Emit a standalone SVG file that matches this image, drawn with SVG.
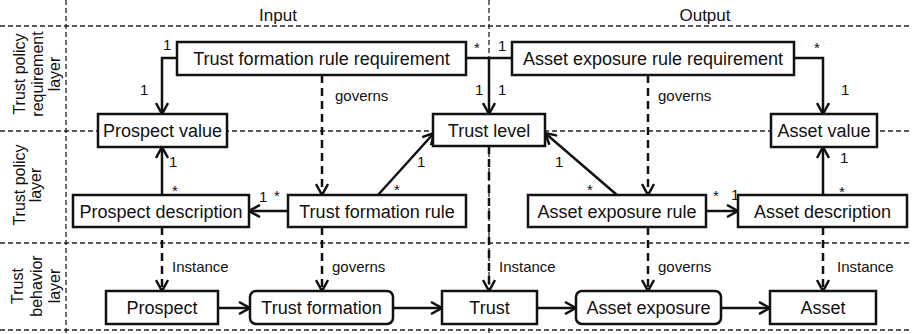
<svg xmlns="http://www.w3.org/2000/svg" width="912" height="334" viewBox="0 0 912 334">
<style>
.grid{stroke:#222;stroke-width:1.3;stroke-dasharray:5 3;fill:none}
.box{fill:#fff;stroke:#111;stroke-width:2.5}
.bt{font-family:"Liberation Sans",Arial,sans-serif;font-size:18px;fill:#111;text-anchor:middle}
.lbl{font-family:"Liberation Sans",Arial,sans-serif;font-size:15px;fill:#111}
.hdr{font-family:"Liberation Sans",Arial,sans-serif;font-size:17px;fill:#111;text-anchor:middle}
.lay{font-family:"Liberation Sans",Arial,sans-serif;font-size:16px;fill:#111;text-anchor:middle}
.sol{stroke:#111;stroke-width:2.5;fill:none;marker-end:url(#arr)}
.line{stroke:#111;stroke-width:2.5;fill:none}
.dsh{stroke:#111;stroke-width:2.5;fill:none;stroke-dasharray:8 5;marker-end:url(#arr)}
</style>
<defs>
<marker id="arr" viewBox="0 0 14 14" refX="12.5" refY="7" markerWidth="14" markerHeight="14" markerUnits="userSpaceOnUse" orient="auto">
<path d="M1.5,1 L12.5,7 L1.5,13" fill="none" stroke="#111" stroke-width="2.5"/>
</marker>
</defs>
<rect width="912" height="334" fill="#fff"/>
<g id="grid">
<line class="grid" x1="0" y1="26" x2="912" y2="26"/>
<line class="grid" x1="0" y1="131" x2="912" y2="131"/>
<line class="grid" x1="0" y1="243" x2="912" y2="243"/>
<line class="grid" x1="0" y1="330" x2="912" y2="330"/>
<line class="grid" x1="66" y1="0" x2="66" y2="334"/>
<line class="grid" x1="489" y1="0" x2="489" y2="334"/>
</g>
<g id="headers">
<text class="hdr" x="278" y="21">Input</text>
<text class="hdr" x="705" y="21">Output</text>
<text class="lay" transform="translate(25,74) rotate(-90)">Trust policy</text>
<text class="lay" transform="translate(43,74) rotate(-90)">requirement</text>
<text class="lay" transform="translate(60,74) rotate(-90)">layer</text>
<text class="lay" transform="translate(25,185) rotate(-90)">Trust policy</text>
<text class="lay" transform="translate(41,185) rotate(-90)">layer</text>
<text class="lay" transform="translate(23,286) rotate(-90)">Trust</text>
<text class="lay" transform="translate(42,286) rotate(-90)">behavior</text>
<text class="lay" transform="translate(60,286) rotate(-90)">layer</text>
</g>
<g id="connectors">
<path class="sol" d="M177,58 H162 V114"/>
<path class="line" d="M466,58 H512"/>
<path class="sol" d="M489,58 V114"/>
<path class="sol" d="M794,58 H823 V114"/>
<path class="sol" d="M162,195 V147"/>
<path class="sol" d="M288,211 H249"/>
<path class="sol" d="M378,195 L434,133"/>
<path class="sol" d="M617,195 L545,133"/>
<path class="sol" d="M706,211 H738"/>
<path class="sol" d="M823,195 V147"/>
<path class="dsh" d="M162,227 V291"/>
<path class="dsh" d="M322,75 V195"/>
<path class="dsh" d="M322,227 V291"/>
<path class="dsh" d="M489,146 V291"/>
<path class="dsh" d="M648,75 V195"/>
<path class="dsh" d="M648,227 V291"/>
<path class="dsh" d="M823,227 V291"/>
<path class="sol" d="M218,308 H250"/>
<path class="sol" d="M393,308 H442"/>
<path class="sol" d="M537,308 H576"/>
<path class="sol" d="M721,308 H770"/>
<text class="lbl" x="163" y="50">1</text>
<text class="lbl" x="140" y="95">1</text>
<text class="lbl" x="474" y="53">*</text>
<text class="lbl" x="498" y="51">1</text>
<text class="lbl" x="475" y="95">1</text>
<text class="lbl" x="498" y="95">1</text>
<text class="lbl" x="814" y="53">*</text>
<text class="lbl" x="841" y="95">1</text>
<text class="lbl" x="169" y="167">1</text>
<text class="lbl" x="172" y="196">*</text>
<text class="lbl" x="259" y="202">1</text>
<text class="lbl" x="274" y="201">*</text>
<text class="lbl" x="417" y="167">1</text>
<text class="lbl" x="394" y="195">*</text>
<text class="lbl" x="555" y="167">1</text>
<text class="lbl" x="587" y="195">*</text>
<text class="lbl" x="713" y="201">*</text>
<text class="lbl" x="731" y="200">1</text>
<text class="lbl" x="840" y="163">1</text>
<text class="lbl" x="839" y="197">*</text>
<text class="lbl" x="335" y="101">governs</text>
<text class="lbl" x="658" y="101">governs</text>
<text class="lbl" x="172" y="272">Instance</text>
<text class="lbl" x="332" y="272">governs</text>
<text class="lbl" x="499" y="272">Instance</text>
<text class="lbl" x="658" y="272">governs</text>
<text class="lbl" x="837" y="272">Instance</text>
</g>
<g id="trust-formation-rule-requirement"><rect class="box" x="177" y="42" width="289" height="33"/><text class="bt" x="321.5" y="65">Trust formation rule requirement</text></g>
<g id="asset-exposure-rule-requirement"><rect class="box" x="512" y="42" width="282" height="33"/><text class="bt" x="653" y="65">Asset exposure rule requirement</text></g>
<g id="prospect-value"><rect class="box" x="98" y="114" width="129" height="33"/><text class="bt" x="162.5" y="137">Prospect value</text></g>
<g id="trust-level"><rect class="box" x="433" y="114" width="112" height="32"/><text class="bt" x="489" y="137">Trust level</text></g>
<g id="asset-value"><rect class="box" x="771" y="114" width="106" height="33"/><text class="bt" x="824" y="137">Asset value</text></g>
<g id="prospect-description"><rect class="box" x="73" y="195" width="176" height="32"/><text class="bt" x="161" y="217.5">Prospect description</text></g>
<g id="trust-formation-rule"><rect class="box" x="288" y="195" width="178" height="32"/><text class="bt" x="377" y="217.5">Trust formation rule</text></g>
<g id="asset-exposure-rule"><rect class="box" x="528" y="195" width="178" height="32"/><text class="bt" x="617" y="217.5">Asset exposure rule</text></g>
<g id="asset-description"><rect class="box" x="738" y="195" width="169" height="32"/><text class="bt" x="822.5" y="217.5">Asset description</text></g>
<g id="prospect"><rect class="box" x="106" y="291" width="112" height="33"/><text class="bt" x="162" y="314">Prospect</text></g>
<g id="trust-formation"><rect class="box" x="250" y="291" width="143" height="33" rx="6"/><text class="bt" x="321.5" y="314">Trust formation</text></g>
<g id="trust"><rect class="box" x="442" y="291" width="95" height="33"/><text class="bt" x="489.5" y="314">Trust</text></g>
<g id="asset-exposure"><rect class="box" x="576" y="291" width="145" height="33" rx="6"/><text class="bt" x="648.5" y="314">Asset exposure</text></g>
<g id="asset"><rect class="box" x="770" y="291" width="106" height="33"/><text class="bt" x="823" y="314">Asset</text></g>
</svg>
